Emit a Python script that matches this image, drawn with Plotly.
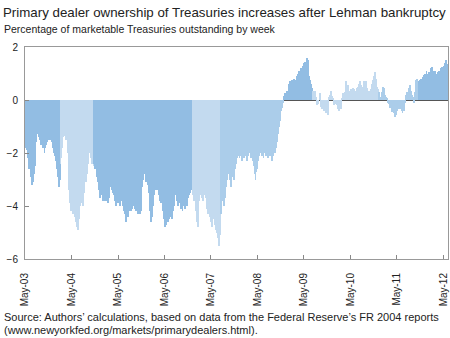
import pandas as pd
import plotly.graph_objects as go

# Weekly values (percent), grouped by year starting in May
y2003 = [-1.8, -1.9, -1.0, -2.2, -2.6, -2.4, -2.9, -3.2, -3.1, -2.8, -2.5,
         -2.0, -1.6, -1.3, -1.2, -1.4, -1.5, -1.7, -1.6, -1.8, -1.7,
         -2.0, -1.8, -1.7, -1.6, -1.5, -1.4, -1.5, -1.3, -1.6, -1.5, -1.8,
         -2.0, -2.1, -2.3, -2.6, -2.9, -3.3, -3.0, -2.4, -2.2, -1.8,
         -1.4, -1.3, -1.35, -1.5, -1.4, -2.0, -2.8, -3.4, -3.9, -4.2]
y2004 = [-4.0, -4.3, -3.8, -4.4, -4.6, -4.2, -4.8, -4.9, -4.5, -4.0, -3.9, -3.7,
         -4.0, -3.5, -3.1, -3.0, -3.1, -2.8, -2.4, -2.0, -1.9, -2.2, -2.4, -2.1,
         -2.5, -2.4, -2.6, -2.5, -2.9, -3.1, -3.4, -3.7, -3.5, -3.3, -3.6, -3.8,
         -3.7, -3.8, -3.6, -3.8, -3.9, -3.7, -3.4, -3.3, -3.1, -3.4, -3.5, -3.6,
         -3.8, -4.0, -3.7, -3.9]
y2005 = [-3.6, -3.9, -4.0, -3.7, -3.8, -4.0, -4.2, -4.3, -4.5, -4.6, -4.3, -4.4,
         -4.2, -4.0, -4.2, -4.1, -3.9, -4.0, -3.8, -4.1, -4.2, -4.0, -4.3, -4.1,
         -4.3, -4.2, -3.8, -3.3, -3.0, -2.7, -2.8, -3.1, -2.9, -3.2, -3.5, -3.8,
         -4.2, -4.6, -4.4, -4.0, -3.6, -3.3, -3.4, -3.2, -3.4, -3.6, -3.5, -3.8,
         -3.9, -3.7, -4.2, -4.5]
y2006 = [-4.8, -4.6, -4.7, -4.5, -4.6, -4.5, -4.3, -4.4, -4.5, -4.2, -4.0, -3.6,
         -3.3, -3.6, -3.8, -4.0, -3.9, -3.8, -4.1, -4.0, -4.2, -3.9, -4.0, -4.1,
         -3.8, -4.0, -3.7, -3.6, -3.5, -3.3, -3.1, -3.4, -3.6, -3.8, -3.5, -4.2,
         -4.6, -4.8, -4.2, -3.8, -3.6, -3.5, -3.7, -3.8, -3.6, -3.5, -3.7, -4.0,
         -4.1, -4.3, -4.2, -4.4]
y2007 = [-4.6, -4.8, -4.5, -4.4, -4.7, -4.6, -4.9, -5.0, -5.2, -5.5, -5.1, -4.3,
         -3.8, -3.4, -3.6, -4.0, -3.7, -3.3, -3.0, -2.8, -2.6, -3.0, -3.3, -3.1,
         -2.9, -2.7, -3.0, -2.6, -2.4, -2.2, -2.1, -2.0, -2.2, -1.9, -2.1, -2.3,
         -2.0, -2.2, -1.9, -2.1, -2.3, -2.0, -2.1, -1.9, -2.0, -2.2, -2.1, -2.3,
         -2.5, -2.8, -3.0, -2.7]
y2008 = [-2.6, -2.3, -2.1, -2.0, -1.9, -2.1, -2.0, -2.2, -2.0, -1.9, -2.1, -2.0,
         -2.2, -2.0, -2.1, -1.9, -2.0, -2.3, -2.1, -1.9, -2.0, -1.8, -1.6, -1.3,
         -1.0, -0.8, -0.6, -0.4, -0.3, -0.1, 0.15, 0.25, 0.2, 0.35, 0.3, 0.5,
         0.6, 0.7, 0.55, 0.75, 0.65, 0.8, 0.7, 0.75, 0.9, 0.75, 1.0, 1.1,
         0.95, 1.2, 1.05, 1.3]
y2009 = [1.4, 1.35, 1.45, 1.3, 1.57, 1.5, 0.9, 0.75, 0.6, 0.45, 0.4, 0.35,
         0.3, 0.35, 0.1, -0.2, -0.15, 0.0, 0.25, -0.1, -0.25, -0.35, -0.2, -0.4,
         -0.3, -0.5, -0.45, -0.55, -0.3, 0.1, 0.2, 0.35, 0.15, 0.05, -0.2, -0.15,
         -0.1, -0.2, -0.3, -0.35, -0.4, -0.3, -0.35, 0.05, 0.25, 0.15, 0.3, 0.5,
         0.7, 0.45, 0.55, 0.35]
y2010 = [0.3, 0.4, 0.35, 0.45, 0.3, 0.4, 0.35, 0.3, 0.45, 0.5, 0.6, 0.7,
         0.55, 0.45, 0.35, 0.5, 0.7, 0.65, 0.7, 0.45, 0.3, 0.35, 0.25, 0.3,
         0.4, 0.6, 0.75, 0.9, 1.07, 0.8, 0.5, 0.35, 0.4, 0.3, 0.1, 0.05,
         0.3, 0.5, 0.45, 0.2, 0.15, 0.1, 0.05, -0.1, -0.15, -0.3, -0.2, -0.45,
         -0.35, -0.5, -0.6, -0.65]
y2011 = [-0.55, -0.4, -0.3, -0.35, -0.25, -0.35, -0.4, -0.5, -0.35, -0.4, -0.1, 0.2,
         0.3, 0.25, 0.45, 0.55, 0.5, 0.35, 0.2, 0.1, -0.1, 0.3, 0.75, 0.8,
         0.6, 0.55, 0.7, 0.75, 0.8, 0.7, 0.85, 0.95, 1.0, 0.9, 1.1, 1.0,
         0.9, 1.05, 1.0, 1.2, 1.25, 1.1, 1.0, 1.05, 1.1, 0.95, 1.0, 1.05,
         1.1, 1.0, 1.2, 1.25]
y2012 = [1.1, 1.15, 1.3, 1.4, 1.5, 1.35]

values = y2003 + y2004 + y2005 + y2006 + y2007 + y2008 + y2009 + y2010 + y2011 + y2012
start_date = "2003-05-07"
dates = pd.date_range(start_date, periods=len(values), freq="7D")

tick_dates = [f"{yr}-05-01" for yr in range(2003, 2013)]
tick_labels = [f"May-{yr % 100:02d}" for yr in range(2003, 2013)]
y_ticks = [2, 0, -2, -4, -6]

# colour bands (style)
DARK, LIGHT, MID = "#92bde3", "#c3daef", "#abcdea"
band_breaks = pd.to_datetime(["2004-02-04", "2004-10-21", "2006-12-07", "2007-07-15",
                              "2008-11-20", "2009-07-15", "2010-12-10", "2011-10-15"])
band_colors = [DARK, LIGHT, DARK, LIGHT, MID, DARK, LIGHT, MID, DARK]

def band_color(d):
    i = 0
    while i < len(band_breaks) and d >= band_breaks[i]:
        i += 1
    return band_colors[i]

colors = [band_color(d) for d in dates]

fig = go.Figure(go.Bar(x=dates, y=values, marker=dict(color=colors, line=dict(width=0))))

FONT = "Liberation Sans, Arial, sans-serif"
L, R, T, B = 25, 2, 47, 79
W, H = 450, 338
fig.update_layout(
    width=W, height=H,
    margin=dict(l=L, r=R, t=T, b=B),
    paper_bgcolor="white", plot_bgcolor="white",
    bargap=0, showlegend=False,
    font=dict(family=FONT, size=10, color="#222222"),
    xaxis=dict(
        type="date", range=["2003-05-01", "2012-06-07"],
        tickvals=tick_dates, ticktext=tick_labels, tickangle=-90,
        ticks="inside", ticklen=4, tickcolor="#888888",
        showline=True, linecolor="#999999", linewidth=1, mirror=True,
        showgrid=False, zeroline=False, ticklabelstandoff=9,
        tickfont=dict(family=FONT, size=10, color="#222222"),
    ),
    yaxis=dict(
        range=[-6, 2], tickvals=y_ticks,
        ticks="inside", ticklen=4, tickcolor="#888888",
        showline=True, linecolor="#999999", linewidth=1, mirror=True,
        showgrid=False, zeroline=True, zerolinecolor="#555555", zerolinewidth=1,
        tickfont=dict(family=FONT, size=10, color="#222222"),
        ticklabelstandoff=4,
    ),
)

plot_w = W - L - R
plot_h = H - T - B

def ann(text, px, py, size):
    return dict(text=text, xref="paper", yref="paper",
                x=(px - L) / plot_w, y=(H - B - py) / plot_h,
                showarrow=False, xanchor="left", yanchor="middle",
                font=dict(family=FONT, size=size, color="#222222"))

fig.update_layout(annotations=[
    ann("Primary dealer ownership of Treasuries increases after Lehman bankruptcy", 1, 12, 13.3),
    ann("Percentage of marketable Treasuries outstanding by week", 2, 29, 10.5),
    ann("Source: Authors\u2019 calculations, based on data from the Federal Reserve\u2019s FR 2004 reports", 2, 317, 11),
    ann("(www.newyorkfed.org/markets/primarydealers.html).", 2, 330, 11),
])

fig.write_html("out.html")
